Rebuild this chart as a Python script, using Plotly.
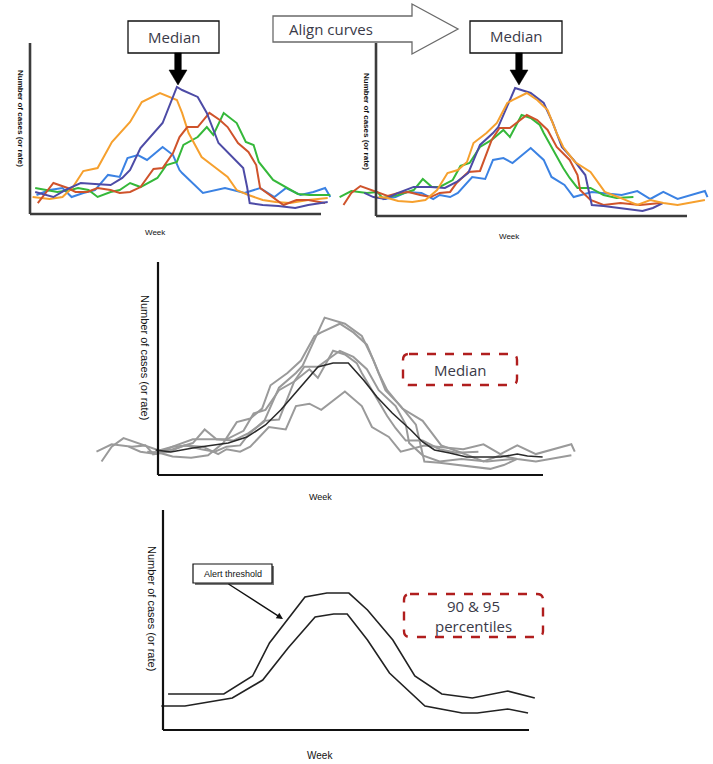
import plotly.graph_objects as go

W, H = 713, 764

# ---------------- DATA ----------------
# Panel 1: raw seasonal curves (week, number of cases)
p1_orange_w = [0.2, 1.5, 2.5, 3.3, 4.1, 5.2, 6.3, 7.7, 8.6, 10.0, 11.3, 11.7, 12.2, 13.2, 14.2, 15.2, 15.9, 16.8, 17.9, 18.9, 20.0, 21.4, 22.9]
p1_orange_c = [13.5, 11.9, 13.5, 21.4, 34.1, 36.5, 57.1, 73.0, 88.9, 96.0, 90.5, 80.2, 64.3, 45.2, 37.3, 29.4, 19.0, 15.1, 11.1, 9.5, 8.7, 11.1, 12.7]
p1_purple_w = [0.4, 1.2, 1.8, 2.7, 3.9, 5.0, 6.2, 7.1, 7.7, 8.5, 9.5, 10.2, 11.3, 11.7, 12.9, 13.6, 14.5, 15.4, 16.4, 16.7, 16.9, 17.9, 19.1, 20.4, 21.4, 22.9]
p1_purple_c = [17.5, 15.1, 13.5, 19.0, 24.6, 23.8, 23.0, 28.6, 34.9, 52.4, 64.3, 72.2, 100.8, 98.4, 92.9, 80.2, 56.3, 46.8, 36.5, 21.4, 8.7, 7.1, 6.3, 4.8, 7.1, 9.5]
p1_red_w = [0.6, 1.8, 2.9, 3.5, 4.4, 5.2, 6.2, 6.9, 7.7, 8.5, 9.5, 10.2, 11.0, 11.5, 12.1, 12.9, 13.8, 14.6, 15.2, 16.0, 16.8, 17.4, 17.7, 18.6, 19.5, 20.5, 21.4, 22.7]
p1_red_c = [8.7, 24.6, 20.6, 17.5, 17.5, 20.6, 19.0, 16.7, 17.5, 21.4, 35.7, 36.5, 48.4, 61.1, 69.0, 69.0, 80.2, 74.6, 69.0, 56.3, 49.2, 38.9, 20.6, 13.5, 7.1, 11.1, 11.1, 8.7]
p1_green_w = [0.4, 1.3, 2.1, 3.1, 3.7, 4.5, 5.2, 6.2, 6.9, 7.7, 8.5, 9.8, 10.5, 11.3, 11.8, 12.9, 13.6, 14.1, 14.9, 15.9, 16.6, 17.2, 17.6, 18.7, 19.7, 20.6, 21.5, 23.1]
p1_green_c = [20.6, 19.0, 17.5, 19.0, 20.6, 19.0, 13.5, 17.5, 19.0, 24.6, 21.4, 28.6, 38.9, 41.3, 54.8, 61.1, 69.0, 62.7, 80.2, 72.2, 57.1, 54.8, 41.3, 27.0, 21.4, 15.9, 15.1, 15.1]
p1_blue_w = [0.5, 1.5, 2.5, 3.2, 4.1, 5.0, 6.0, 6.9, 7.5, 8.3, 9.0, 10.2, 11.0, 11.5, 11.7, 12.5, 13.3, 15.0, 16.5, 17.7, 18.8, 19.7, 20.8, 21.8, 22.7, 23.1]
p1_blue_c = [15.1, 19.0, 20.6, 13.5, 16.7, 19.0, 31.0, 29.4, 44.4, 46.8, 42.9, 53.2, 46.8, 34.9, 32.5, 24.6, 16.7, 20.6, 16.7, 20.6, 13.5, 20.6, 15.1, 17.5, 20.6, 13.5]

# Panel 2: aligned curves (week, number of cases)
p2_orange_w = [0.2, 0.9, 1.7, 2.8, 3.8, 4.7, 5.5, 6.3, 7.0, 7.5, 8.5, 9.3, 10.1, 10.5, 11.6, 12.4, 13.2, 13.9, 14.4, 15.3, 16.5, 17.6, 18.8, 20.1, 21.1, 22.1, 23.2, 25.3]
p2_orange_c = [14.8, 14.1, 11.7, 10.9, 12.5, 20.3, 33.6, 35.9, 42.2, 57.0, 64.8, 72.7, 88.3, 90.6, 96.1, 90.6, 82.8, 64.8, 53.9, 42.2, 34.4, 18.8, 14.1, 8.6, 12.5, 10.2, 8.6, 12.5]
p2_purple_w = [-0.9, -0.2, 0.7, 1.7, 2.9, 4.2, 5.3, 6.2, 7.1, 8.0, 9.0, 9.4, 10.7, 11.9, 12.9, 13.6, 14.3, 15.2, 16.1, 16.6, 17.5, 18.8, 20.5, 21.3, 22.1]
p2_purple_c = [18.0, 14.8, 13.3, 18.0, 22.7, 22.7, 21.9, 26.6, 33.6, 55.5, 64.8, 69.5, 100.0, 96.1, 88.3, 72.7, 53.9, 43.8, 32.0, 8.6, 7.8, 6.3, 3.9, 6.3, 10.2]
p2_red_w = [-2.5, -1.9, -1.2, 0.1, 0.9, 1.7, 2.5, 3.4, 4.2, 4.9, 5.7, 6.2, 7.1, 8.0, 8.9, 9.5, 10.3, 11.6, 12.4, 13.2, 13.9, 14.9, 15.5, 15.7, 16.5, 17.5, 18.8, 20.3, 21.9]
p2_red_c = [8.6, 18.0, 23.4, 18.8, 15.6, 18.0, 18.8, 16.4, 14.8, 18.0, 18.8, 25.8, 34.4, 35.2, 59.4, 68.8, 68.8, 78.9, 75.0, 67.2, 53.9, 43.8, 32.0, 20.3, 12.5, 8.6, 10.2, 8.6, 10.2]
p2_green_w = [-2.8, -1.9, -0.7, 0.1, 0.5, 1.7, 2.9, 3.6, 4.3, 4.9, 5.9, 6.5, 7.2, 8.0, 8.9, 9.8, 10.3, 11.2, 11.9, 12.6, 12.9, 13.4, 13.9, 14.4, 14.9, 15.5, 16.5, 17.5, 18.5, 19.8]
p2_green_c = [14.8, 19.5, 18.0, 18.8, 14.1, 16.4, 20.3, 28.9, 22.7, 22.7, 28.1, 39.1, 41.4, 53.9, 59.4, 67.2, 61.7, 78.9, 76.6, 71.1, 64.8, 55.5, 46.1, 37.5, 29.7, 21.9, 21.9, 16.4, 14.1, 14.8]
p2_blue_w = [0.5, 1.5, 2.4, 3.5, 4.4, 4.9, 5.7, 6.3, 7.4, 8.4, 9.0, 9.8, 10.5, 11.9, 12.9, 13.5, 14.5, 15.2, 16.6, 17.5, 18.9, 20.1, 21.1, 22.1, 23.2, 25.3, 25.5]
p2_blue_c = [13.0, 14.8, 18.8, 18.0, 13.3, 16.4, 14.8, 18.0, 30.5, 28.9, 43.8, 45.3, 41.4, 53.1, 43.8, 30.5, 24.2, 14.8, 18.8, 18.0, 16.4, 19.5, 13.3, 18.8, 13.3, 19.5, 14.8]

# Panel 3: median of the aligned curves
median_w = [0.7, 1.6, 2.9, 5.0, 6.1, 7.2, 8.1, 9.1, 10.3, 11.2, 12.1, 13.0, 13.8, 14.7, 15.8, 16.5, 17.2, 18.1, 19.1, 20.1, 21.1, 22.1, 22.7, 23.6]
median_c = [15.9, 14.6, 17.2, 20.3, 24.1, 31.8, 41.3, 54.0, 68.6, 71.2, 71.2, 60.4, 49.6, 39.4, 28.6, 21.0, 15.9, 14.0, 11.4, 11.4, 11.4, 13.3, 12.1, 11.4]

# Panel 4: percentile thresholds
p95_w = [0.3, 3.6, 5.3, 6.3, 8.4, 9.7, 11.0, 12.1, 13.6, 14.9, 16.5, 18.3, 20.4, 22.0]
p95_c = [24.0, 24.0, 36.0, 58.0, 88.7, 91.3, 91.3, 80.0, 60.0, 36.0, 24.0, 21.3, 26.0, 21.3]
p90_w = [-0.1, 1.3, 4.1, 5.9, 7.4, 9.0, 10.1, 10.9, 12.1, 13.4, 15.5, 17.7, 18.6, 20.4, 21.6]
p90_c = [16.0, 16.0, 21.3, 33.3, 54.7, 75.3, 77.3, 77.3, 60.0, 38.0, 16.0, 11.3, 11.3, 14.0, 11.3]

COLORS = {"orange": "#F6A02E", "purple": "#4D4BA6", "red": "#CF532B",
          "green": "#35B83A", "blue": "#3B82E3"}

# ---------------- LAYOUT HELPERS ----------------
def fx(x):
    return x / W

def fy(y):
    return 1 - y / H

# pixel mapping of each panel: week origin px, px per week, baseline px, px per case
PAN = {
    1: dict(ox=30, sx=13.0, oy=214, sy=1.26, dom=(25, 340, 40, 222)),
    2: dict(ox=376, sx=13.0, oy=216, sy=1.28, dom=(335, 712, 40, 224)),
    3: dict(ox=143.8, sx=16.9, oy=475, sy=1.574, dom=(85, 582, 255, 484)),
    4: dict(ox=163, sx=16.9, oy=730, sy=1.5, dom=(150, 548, 505, 736)),
}

def wk(p, x):
    return (x - PAN[p]["ox"]) / PAN[p]["sx"]

def cs(p, y):
    return (PAN[p]["oy"] - y) / PAN[p]["sy"]

fig = go.Figure()

def add(p, xs, ys, color, width):
    sfx = "" if p == 1 else str(p)
    fig.add_trace(go.Scatter(x=xs, y=ys, mode="lines", xaxis="x" + sfx, yaxis="y" + sfx,
                             line=dict(color=color, width=width), hoverinfo="skip",
                             showlegend=False))

p1 = [("blue", p1_blue_w, p1_blue_c), ("green", p1_green_w, p1_green_c),
      ("orange", p1_orange_w, p1_orange_c), ("red", p1_red_w, p1_red_c),
      ("purple", p1_purple_w, p1_purple_c)]
p2 = [("blue", p2_blue_w, p2_blue_c), ("green", p2_green_w, p2_green_c),
      ("red", p2_red_w, p2_red_c), ("purple", p2_purple_w, p2_purple_c),
      ("orange", p2_orange_w, p2_orange_c)]
for name, xs, ys in p1:
    add(1, xs, ys, COLORS[name], 2)
for name, xs, ys in p2:
    add(2, xs, ys, COLORS[name], 2)
for name, xs, ys in p2:
    add(3, xs, ys, "#9A9A9A", 2)
add(3, median_w, median_c, "#2A2A2A", 1.6)
add(4, p95_w, p95_c, "#222222", 1.6)
add(4, p90_w, p90_c, "#222222", 1.6)

layout_axes = {}
for p, d in PAN.items():
    x0, x1, y0, y1 = d["dom"]
    sfx = "" if p == 1 else str(p)
    layout_axes["xaxis" + sfx] = dict(domain=[fx(x0), fx(x1)], range=[wk(p, x0), wk(p, x1)],
                                      visible=False, anchor="y" + sfx, fixedrange=True)
    layout_axes["yaxis" + sfx] = dict(domain=[fy(y1), fy(y0)], range=[cs(p, y1), cs(p, y0)],
                                      visible=False, anchor="x" + sfx, fixedrange=True)

shapes = []
# axis lines (x-end px, y-top px, axis x px, color, width)
AX = {1: (321, 43, 30, "#3C3C3C", 2.6), 2: (687, 43, 376, "#3C3C3C", 2.6),
      3: (543, 262, 158, "#111111", 2.2), 4: (529, 510, 163, "#111111", 2.2)}
for p, (xe, yt, xa, col, lw) in AX.items():
    sfx = "" if p == 1 else str(p)
    shapes.append(dict(type="line", xref="x" + sfx, yref="y" + sfx, x0=wk(p, xa), y0=0,
                       x1=wk(p, xa), y1=cs(p, yt), line=dict(color=col, width=lw)))
    shapes.append(dict(type="line", xref="x" + sfx, yref="y" + sfx, x0=wk(p, xa), y0=0,
                       x1=wk(p, xe), y1=0, line=dict(color=col, width=lw)))

def path(pts, close=True):
    s = "M " + " L ".join(f"{fx(x):.5f},{fy(y):.5f}" for x, y in pts)
    return s + (" Z" if close else "")

def rrect(x0, y0, x1, y1, r):
    P = lambda x, y: f"{fx(x):.5f},{fy(y):.5f}"
    return (f"M {P(x0 + r, y0)} L {P(x1 - r, y0)} Q {P(x1, y0)} {P(x1, y0 + r)} "
            f"L {P(x1, y1 - r)} Q {P(x1, y1)} {P(x1 - r, y1)} L {P(x0 + r, y1)} "
            f"Q {P(x0, y1)} {P(x0, y1 - r)} L {P(x0, y0 + r)} Q {P(x0, y0)} {P(x0 + r, y0)} Z")

# Median boxes (top)
for (bx0, bx1) in [(128, 219), (470, 562)]:
    shapes.append(dict(type="rect", xref="paper", yref="paper", x0=fx(bx0), x1=fx(bx1),
                       y0=fy(53), y1=fy(21), line=dict(color="#111111", width=1.3),
                       fillcolor="white"))
# Black down arrows
for cx in [178, 519]:
    shapes.append(dict(type="path", xref="paper", yref="paper",
                       path=path([(cx - 3.3, 53), (cx + 3.3, 53), (cx + 3.3, 70), (cx + 9, 70),
                                  (cx, 85), (cx - 9, 70), (cx - 3.3, 70)]),
                       fillcolor="#000000", line=dict(color="#000000", width=0.5)))
# Align curves block arrow
shapes.append(dict(type="path", xref="paper", yref="paper",
                   path=path([(273, 16), (412, 16), (412, 4), (458, 29), (412, 54), (412, 42), (273, 42)]),
                   fillcolor="white", line=dict(color="#6A6A6A", width=1.3)))
# Dashed rounded boxes
shapes.append(dict(type="path", xref="paper", yref="paper", path=rrect(403, 354, 517, 385, 6),
                   line=dict(color="#B01E1E", width=2.4, dash="dash"), fillcolor="rgba(0,0,0,0)"))
shapes.append(dict(type="path", xref="paper", yref="paper", path=rrect(404, 594, 543, 637, 6),
                   line=dict(color="#B01E1E", width=2.4, dash="dash"), fillcolor="rgba(0,0,0,0)"))
# Alert threshold box with shadow
shapes.append(dict(type="rect", xref="paper", yref="paper", x0=fx(195), x1=fx(274),
                   y0=fy(585), y1=fy(566), line=dict(width=0), fillcolor="#777777"))
shapes.append(dict(type="rect", xref="paper", yref="paper", x0=fx(193), x1=fx(272),
                   y0=fy(583), y1=fy(564), line=dict(color="#111111", width=1.2), fillcolor="white"))

TXT = "#3A3A48"
ann = []
def text(x, y, s, size, color=TXT, family="Open Sans", angle=0):
    ann.append(dict(xref="paper", yref="paper", x=fx(x), y=fy(y), text=s, showarrow=False,
                    font=dict(size=size, color=color, family=family), textangle=angle,
                    xanchor="center", yanchor="middle"))

text(173.5, 37, "Median", 15)
text(516, 36, "Median", 15)
text(331, 29, "Align curves", 15)
text(460, 370, "Median", 15)
text(473, 616, "90 &amp; 95<br>percentiles", 15)
text(232.5, 574, "Alert threshold", 9, "#111111", "Liberation Sans Narrow, Liberation Sans")

YT = "Number of cases (or rate)"
NAR = "Liberation Sans Narrow, Liberation Sans, Arial"
text(20, 118, "<b>" + YT + "</b>", 8, "#111111", NAR, 90)
text(366, 121, "<b>" + YT + "</b>", 8, "#111111", NAR, 90)
text(145, 357, YT, 11, "#111111", NAR, 90)
text(152, 608, YT, 11, "#111111", NAR, 90)
text(155, 232, "Week", 8, "#111111", NAR)
text(509, 237, "Week", 8, "#111111", NAR)
text(320, 497, "Week", 9, "#111111", NAR)
text(320, 755, "Week", 10, "#111111", NAR)

# Alert threshold pointer (tail offset in pixels from the head)
ann.append(dict(xref="paper", yref="paper", axref="pixel", ayref="pixel",
                x=fx(283), y=fy(619), ax=227 - 283, ay=583 - 619, text="", showarrow=True,
                arrowhead=2, arrowsize=1, arrowwidth=1.3, arrowcolor="#111111"))

fig.update_layout(width=W, height=H, margin=dict(l=0, r=0, t=0, b=0),
                  paper_bgcolor="white", plot_bgcolor="rgba(0,0,0,0)",
                  shapes=shapes, annotations=ann, showlegend=False, **layout_axes)

fig.write_html("out.html", config={"displayModeBar": False},
               post_script="document.body.style.margin='0';document.body.style.overflow='hidden';")
